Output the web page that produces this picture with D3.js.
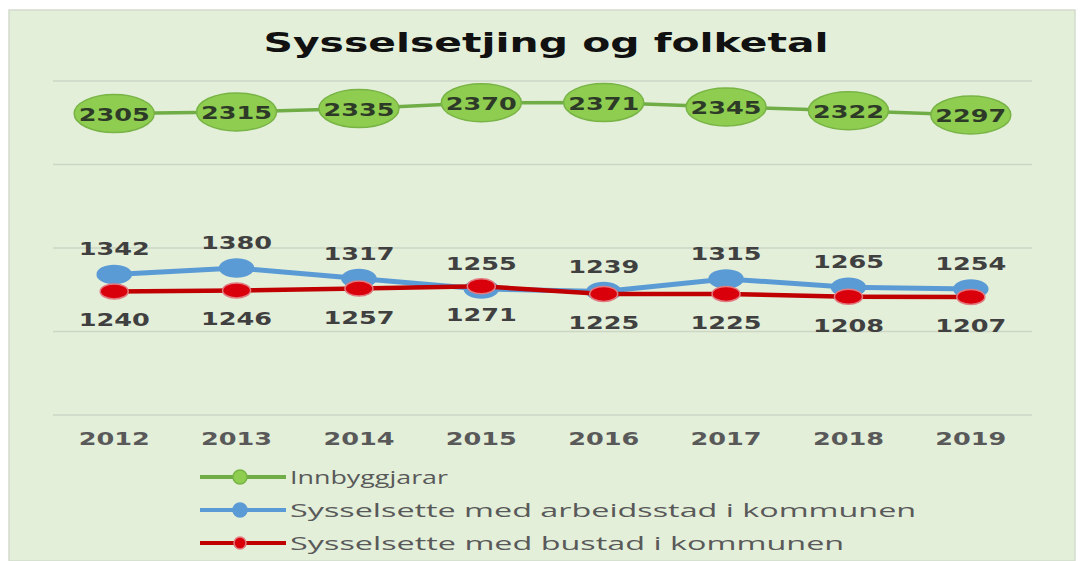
<!DOCTYPE html>
<html>
<head>
<meta charset="utf-8">
<script src="https://cdn.jsdelivr.net/npm/d3@7"></script>
<style>
  body { margin: 0; background: #fff; }
  svg { display: block; }
</style>
</head>
<body>
<div id="chart"></div>
<script>
// data
var years = ["2012", "2013", "2014", "2015", "2016", "2017", "2018", "2019"];
var innbyggjarar = [2305, 2315, 2335, 2370, 2371, 2345, 2322, 2297];
var arbeidsstad = [1342, 1380, 1317, 1255, 1239, 1315, 1265, 1254];
var bustad = [1240, 1246, 1257, 1271, 1225, 1225, 1208, 1207];
var yTicks = [500, 1000, 1500, 2000, 2500];
var seriesNames = ["Innbyggjarar", "Sysselsette med arbeidsstad i kommunen", "Sysselsette med bustad i kommunen"];

var W = 1080, H = 561;
var SX = 1.42; // picture is stretched sideways

var svg = d3.select("#chart").append("svg")
    .attr("width", W)
    .attr("height", H);

// panel
svg.append("rect")
    .attr("x", 9).attr("y", 10)
    .attr("width", 1066).attr("height", H - 10)
    .attr("fill", "#e3efd9")
    .attr("stroke", "#d3dccd")
    .attr("stroke-width", 1.5);

var x = d3.scalePoint().domain(years).range([53, 1032]).padding(0.5);
var y = d3.scaleLinear().domain([500, 2500]).range([415, 81]);

// gridlines
svg.append("g").selectAll("line")
    .data(yTicks)
    .enter().append("line")
    .attr("x1", 53).attr("x2", 1032)
    .attr("y1", function(d) { return y(d); })
    .attr("y2", function(d) { return y(d); })
    .attr("stroke", "#cdd6c6")
    .attr("stroke-width", 1.5);

function stretched(g, px, py, txt, sx) {
    return g.append("text")
        .attr("transform", "translate(" + px + "," + py + ") scale(" + sx + ",1)")
        .text(txt);
}

function fit(sel, width) {
    var w = sel.node().getComputedTextLength();
    var t = sel.attr("transform").replace(/scale\([^)]*\)/, "scale(" + (width / w) + ",1)");
    sel.attr("transform", t);
}

// title
var title = stretched(svg, 546, 52, "Sysselsetjing og folketal", SX)
    .attr("text-anchor", "middle")
    .style("font-family", "DejaVu Sans")
    .style("font-weight", "bold")
    .style("font-size", "26px")
    .attr("fill", "#111");
fit(title, 565);

// x axis labels
var xl = svg.append("g");
years.forEach(function(yr) {
    stretched(xl, x(yr), 445, yr, SX)
        .attr("text-anchor", "middle")
        .style("font-family", "DejaVu Sans")
        .style("font-weight", "bold")
        .style("font-size", "18px")
        .attr("fill", "#595959");
});

var line = d3.line()
    .x(function(d, i) { return x(years[i]); })
    .y(function(d) { return y(d); });

var series = [
    { values: innbyggjarar, stroke: "#70ad47", width: 3.5, fill: "#8fcd50", mstroke: "#78b445", rx: 40, ry: 19 },
    { values: arbeidsstad, stroke: "#5b9bd5", width: 5, fill: "#5b9bd5", mstroke: "#5b9bd5", rx: 17, ry: 9 },
    { values: bustad, stroke: "#c00000", width: 4.5, fill: "#d9000c", mstroke: "#e27a80", rx: 14, ry: 7.5 }
];

series.forEach(function(s) {
    svg.append("path")
        .datum(s.values)
        .attr("d", line)
        .attr("fill", "none")
        .attr("stroke", s.stroke)
        .attr("stroke-width", s.width);
    svg.append("g").selectAll("ellipse")
        .data(s.values)
        .enter().append("ellipse")
        .attr("cx", function(d, i) { return x(years[i]); })
        .attr("cy", function(d) { return y(d); })
        .attr("rx", s.rx).attr("ry", s.ry)
        .attr("fill", s.fill)
        .attr("stroke", s.mstroke)
        .attr("stroke-width", 1.5);
});

// data labels
var lab = svg.append("g")
    .style("font-family", "DejaVu Sans")
    .style("font-weight", "bold")
    .style("font-size", "18px")
    .attr("text-anchor", "middle");

innbyggjarar.forEach(function(v, i) {
    stretched(lab, x(years[i]), y(v) + 7, v, SX).attr("fill", "#2e3a28");
});
arbeidsstad.forEach(function(v, i) {
    stretched(lab, x(years[i]), y(v) - 19, v, SX).attr("fill", "#404040");
});
bustad.forEach(function(v, i) {
    stretched(lab, x(years[i]), y(v) + 35, v, SX).attr("fill", "#404040");
});

// legend
var legendWidths = [158, 626, 554];
var legend = svg.append("g");
series.forEach(function(s, i) {
    var ly = 477 + i * 33;
    legend.append("line")
        .attr("x1", 200).attr("x2", 286)
        .attr("y1", ly).attr("y2", ly)
        .attr("stroke", s.stroke)
        .attr("stroke-width", 4);
    legend.append("circle")
        .attr("cx", 240).attr("cy", ly)
        .attr("r", i === 2 ? 6 : 7)
        .attr("fill", s.fill)
        .attr("stroke", s.mstroke)
        .attr("stroke-width", 1.5);
    var t = stretched(legend, 290, ly + 7, seriesNames[i], 1.2)
        .style("font-family", "Open Sans")
        .style("font-size", "19px")
        .attr("fill", "#595959");
    fit(t, legendWidths[i]);
});
</script>
</body>
</html>
